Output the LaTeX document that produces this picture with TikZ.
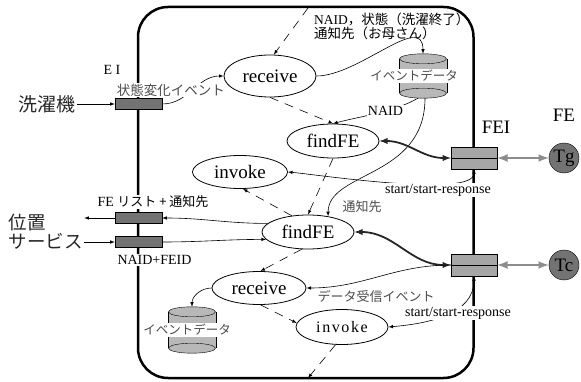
\documentclass[tikz,border=0pt]{standalone}
\usepackage{fontspec}
\setmainfont{Liberation Serif}
\newfontfamily\jpfont{Noto Sans CJK JP}
\usepackage{tikz}
\usetikzlibrary{arrows, shapes, positioning}

\begin{document}
\begin{tikzpicture}[x=1pt, y=-1pt, on grid,
    proc/.style={ellipse, draw, thick, minimum width=92pt, minimum height=34pt, inner sep=0pt, font=\fontsize{19}{21}\selectfont},
    eibox/.style={rectangle, draw, fill=black!55, minimum width=47pt, minimum height=11pt, inner sep=0pt},
    feibox/.style={rectangle, draw, fill=black!35, minimum width=46pt, minimum height=22pt, inner sep=0pt},
    fe/.style={circle, draw, fill=black!55, minimum size=30pt, inner sep=0pt, font=\fontsize{19}{21}\selectfont},
    db/.style={rectangle, minimum width=47pt, minimum height=44pt, inner sep=0pt},
    dbfill/.style={fill=black!28},
    lbl/.style={fill=white, inner sep=1pt, font=\fontsize{14}{16}\selectfont},
    jlbl/.style={fill=white, inner sep=1pt, text=black!70, font=\jpfont\fontsize{13}{14}\selectfont},
    big/.style={inner sep=1pt, text=black!85, font=\jpfont\fontsize{19}{19}\selectfont},
    flow/.style={-latex, semithick},
    ctrl/.style={-latex, semithick, dash pattern=on 9pt off 7pt},
    call/.style={latex-latex, line width=1.8pt, black!85},
    link/.style={latex-latex, line width=2.5pt, gray!90}]
  \useasboundingbox (0,0) rectangle (581,382);
  \draw[line width=2.5pt, rounded corners=30pt] (138,7) rectangle (473.5,378);

  % EI on the left side
  \node[eibox] (eiA) at (138.5,104) {};
  \node[eibox] (eiB) at (138.5,218) {};
  \node[eibox] (eiC) at (138.5,242) {};
  \node[big] (wash) [left = 91.5pt of eiA] {洗濯機};
  \node[big, align=left, font=\jpfont\fontsize{18.5}{19}\selectfont] (loc) [below left = 14pt and 92.5pt of eiB] {位置\\サービス};

  % processes
  \node[proc, minimum height=42pt] (recvA) at (270,76) {receive};
  \node[proc] (findA) [below right = 65pt and 63pt of recvA] {findFE};
  \node[proc, minimum width=95pt, minimum height=33pt] (invA) [below left = 31pt and 93pt of findA] {invoke};
  \node[proc] (findB) [below left = 91pt and 25pt of findA] {findFE};
  \node[proc, minimum width=94pt, minimum height=33pt] (recvB) [below left = 56pt and 49pt of findB] {receive};
  \node[proc, minimum height=35pt, font=\fontsize{16}{18}\selectfont\addfontfeatures{LetterSpace=10}] (invB) [below right = 39pt and 83pt of recvB] {invoke};

  % event data stores
  \node[db] (dbA) [right = 153pt of recvA] {};
  \node[db, minimum height=46pt] (dbB) [below left = 42pt and 67pt of recvB] {};
  \path[dbfill] ([yshift=-5pt]dbA.north west) rectangle ([yshift=5pt]dbA.south east);
  \draw ([yshift=-5pt]dbA.north west) -- ([yshift=5pt]dbA.south west)
        ([yshift=-5pt]dbA.north east) -- ([yshift=5pt]dbA.south east);
  \draw[dbfill] ([yshift=-5pt]dbA.north) ellipse [x radius=23.5pt, y radius=5pt];
  \draw[dbfill] ([yshift=5pt]dbA.south) ellipse [x radius=23.5pt, y radius=5pt];
  \path[dbfill] ([yshift=-5pt]dbB.north west) rectangle ([yshift=5pt]dbB.south east);
  \draw ([yshift=-5pt]dbB.north west) -- ([yshift=5pt]dbB.south west)
        ([yshift=-5pt]dbB.north east) -- ([yshift=5pt]dbB.south east);
  \draw[dbfill] ([yshift=-5pt]dbB.north) ellipse [x radius=23.5pt, y radius=5pt];
  \draw[dbfill] ([yshift=5pt]dbB.south) ellipse [x radius=23.5pt, y radius=5pt];

  % FEI and FE
  \node[feibox] (feiA) [below right = 17pt and 141pt of findA] {};
  \node[feibox] (feiB) [below = 107pt of feiA] {};
  \draw (feiA.west) -- (feiA.east);
  \draw (feiB.west) -- (feiB.east);
  \node[fe] (tg) [right = 90pt of feiA] {Tg};
  \node[fe] (tc) [right = 90pt of feiB] {Tc};

  \coordinate (inlet) at (308,8);
  \coordinate (outlet) at (308,378);

  \path[flow] (wash) edge (eiA);
  \path[flow] (eiB.west) edge (eiB.west -| loc.east);
  \path[flow] (eiC.west -| loc.east) edge (eiC.west);
  \path[flow] (eiA.east) edge[out=0, in=180] node[jlbl, font=\jpfont\fontsize{13.5}{14}\selectfont, xshift=-22pt] {状態変化イベント} (recvA.west);
  \path[ctrl] (inlet) edge (recvA.80);
  \path[flow] (recvA.east) edge[out=0, in=90] (dbA.north);
  \path[ctrl] (recvA.south) edge (findA.north);
  \path[flow] ([xshift=-5pt]dbA.south) edge[out=-150, in=15, looseness=0.8] node[lbl, pos=0.4] {NAID} (findA.north);
  \path[flow] ([xshift=2pt]dbA.south) edge[out=-90, in=90, out distance=80pt, in distance=45pt] (findB.38);
  \path[call] (findA.east) edge[out=0, in=180] (feiA.west);
  \path[flow, latex-latex] (invA.east) edge[out=-5, in=-90, looseness=0.4] (feiA.south);
  \path[ctrl] (findA.south) edge (findB.north);
  \path[ctrl] (findB.135) edge (invA.-80);
  \path[flow] (findB.168) edge[out=180, in=0] (eiB.east);
  \path[flow] (eiC.east) edge[out=0, in=180] (findB.190);
  \path[call] (findB.east) edge[out=0, in=180] (feiB.west);
  \path[ctrl] (findB.-110) edge (recvB.85);
  \path[flow] (feiB.west) edge[out=180, in=0] (recvB.east);
  \path[flow] (recvB.west) edge[out=180, in=90] (dbB.north);
  \path[ctrl] (recvB.-85) edge (invB.175);
  \path[flow, latex-latex] (invB.east) edge[out=5, in=-90] (feiB.south);
  \path[ctrl] (invB.-110) edge (outlet);
  \path[link] (feiA.east) edge (tg.west);
  \path[link] (feiB.east) edge (tc.west);

  % labels
  \node[inner sep=1pt, align=left, anchor=north west, font=\fontsize{13.5}{14}\selectfont] (notice) at (313,12) {NAID{\jpfont ，状態（洗濯終了）}\\{\jpfont 通知先（お母さん）}};
  \node[jlbl, font=\jpfont\fontsize{12.5}{14}\selectfont] (dbAtext) [left = 9pt of dbA] {イベントデータ};
  \node[jlbl, font=\jpfont\fontsize{12.5}{14}\selectfont] (dbBtext) [left = 5pt of dbB] {イベントデータ};
  \node[lbl] (ei) [above left = 34pt and 26.5pt of eiA] {E I};
  \node[lbl] (felist) [above right = 16pt and 14.5pt of eiB] {FE {\jpfont\fontsize{13}{14}\selectfont リスト + 通知先}};
  \node[lbl] (feid) [below right = 18pt and 16pt of eiC] {NAID+FEID};
  \node[lbl, font=\fontsize{19}{21}\selectfont] (feitext) [above right = 31pt and 22pt of feiA] {FEI};
  \node[lbl, font=\fontsize{19}{21}\selectfont] (fetext) [above = 43pt of tg] {FE};
  \node[lbl] (ssrA) [below left = 32pt and 36pt of feiA] {start/start-response};
  \node[lbl] (ssrB) [below left = 48pt and 16pt of feiB] {start/start-response};
  \node[jlbl] (notify) [above right = 25pt and 54pt of findB] {通知先};
  \node[jlbl] (recvev) [below left = 31pt and 98pt of feiB] {データ受信イベント};
\end{tikzpicture}
\end{document}
